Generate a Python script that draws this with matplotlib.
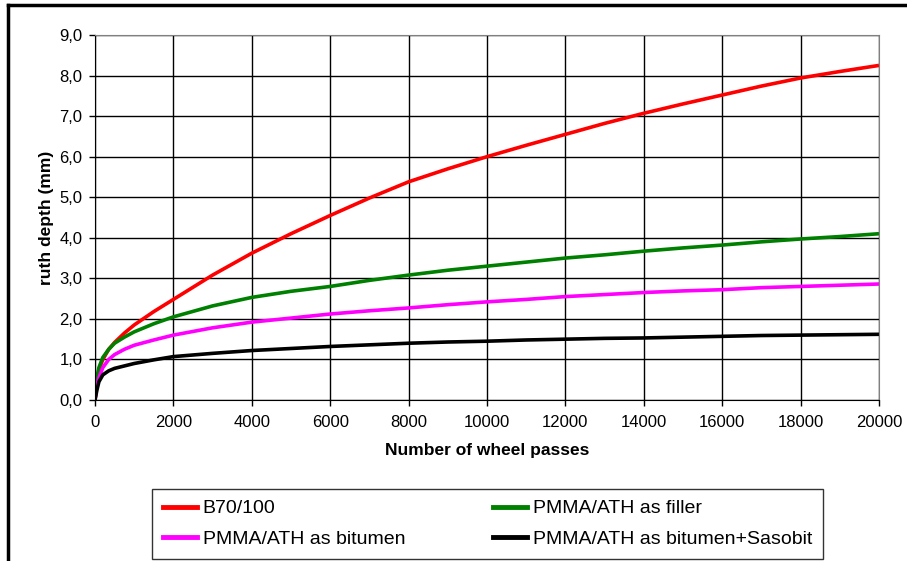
import numpy as np
import matplotlib
matplotlib.use("Agg")
from matplotlib import pyplot as plt
from matplotlib.ticker import FuncFormatter
from matplotlib.lines import Line2D

plt.rcParams['font.family'] = ['Liberation Sans', 'DejaVu Sans']

# values
passes = [0, 50, 100, 200, 350, 500, 750, 1000, 1500, 2000, 3000, 4000, 5000, 6000, 7000,
          8000, 9000, 10000, 11000, 12000, 13000, 14000, 15000, 16000, 17000, 18000, 19000, 20000]
b70 = [0.0, 0.5, 0.75, 1.0, 1.25, 1.42, 1.65, 1.85, 2.18, 2.48, 3.08, 3.62, 4.1, 4.55, 4.98,
       5.38, 5.7, 6.0, 6.28, 6.55, 6.82, 7.07, 7.3, 7.52, 7.74, 7.94, 8.1, 8.25]
filler = [0.0, 0.55, 0.8, 1.05, 1.25, 1.4, 1.55, 1.68, 1.88, 2.05, 2.32, 2.53, 2.68, 2.8, 2.95,
          3.08, 3.2, 3.3, 3.4, 3.5, 3.58, 3.67, 3.75, 3.82, 3.9, 3.97, 4.03, 4.1]
bitumen = [0.0, 0.35, 0.55, 0.8, 1.0, 1.12, 1.25, 1.35, 1.48, 1.6, 1.78, 1.92, 2.02, 2.12, 2.2,
           2.27, 2.35, 2.42, 2.48, 2.55, 2.6, 2.65, 2.69, 2.72, 2.77, 2.8, 2.83, 2.86]
sasobit = [0.0, 0.25, 0.45, 0.62, 0.72, 0.78, 0.84, 0.9, 0.99, 1.07, 1.15, 1.22, 1.27, 1.32, 1.36,
           1.4, 1.43, 1.45, 1.48, 1.5, 1.52, 1.53, 1.55, 1.57, 1.59, 1.6, 1.61, 1.62]

names = ['B70/100', 'PMMA/ATH as filler', 'PMMA/ATH as bitumen', 'PMMA/ATH as bitumen+Sasobit']
colors = ['#ff0000', '#008000', '#ff00ff', '#000000']

W, H = 907, 561
fig = plt.figure(figsize=(W/100, H/100), dpi=100)
ax = fig.add_axes([95/W, 1-400/H, (879-95)/W, (400-35)/H])

for ys, c in zip([b70, filler, bitumen, sasobit], colors):
    ax.plot(passes, ys, color=c, lw=2.6, solid_capstyle='butt')

ax.set_xlim(0, 20000)
ax.set_ylim(0, 9)
ax.set_xticks(np.arange(0, 20001, 2000))
ax.set_yticks(np.arange(0, 9.01, 1))
ax.yaxis.set_major_formatter(FuncFormatter(lambda v, p: f"{v:.1f}".replace('.', ',')))
ax.grid(True, color='black', lw=1.0)
ax.set_axisbelow(True)
ax.tick_params(direction='out', length=4, width=1, labelsize=12, colors='black')
ax.tick_params(axis='x', pad=7)
ax.tick_params(axis='y', pad=5)
for s in ['top', 'right']:
    ax.spines[s].set_color('#808080')
for s in ['left', 'bottom']:
    ax.spines[s].set_color('black')

ax.set_xlabel('Number of wheel passes', fontsize=12.5, fontweight='bold', labelpad=9)
ax.set_ylabel('ruth depth (mm)', fontsize=12.5, fontweight='bold', labelpad=4)

# legend filled row by row like the reference: column-major order for matplotlib
order = [0, 2, 1, 3]
handles = [Line2D([], [], color=colors[i], lw=3.5) for i in order]
labels = [names[i] for i in order]
legsize = 14

def make_legend(colsp):
    lg = fig.legend(handles, labels, loc='upper left', ncol=2,
                    bbox_to_anchor=(152/W, 1-489/H),
                    frameon=True, fancybox=False, fontsize=legsize,
                    handlelength=1.75, handletextpad=0.3, borderpad=0.55,
                    labelspacing=0.68, columnspacing=colsp, borderaxespad=0)
    lg.get_frame().set_edgecolor('black')
    lg.get_frame().set_linewidth(1.0)
    return lg

colsp = 2.0
leg = make_legend(colsp)
fig.canvas.draw()
# shift second column so its labels start near x=533 px
tx = leg.get_texts()[2].get_window_extent().x0
em = legsize * 100 / 72
colsp += (533 - tx) / em
leg.remove()
leg = make_legend(colsp)

# outer chart border (left and top visible)
fig.add_artist(Line2D([8/W, 8/W], [0, 1-5/H], color='black', lw=2.5, transform=fig.transFigure))
fig.add_artist(Line2D([8/W, 1], [1-5/H, 1-5/H], color='black', lw=2.5, transform=fig.transFigure))

fig.savefig('out.png', dpi=100)
